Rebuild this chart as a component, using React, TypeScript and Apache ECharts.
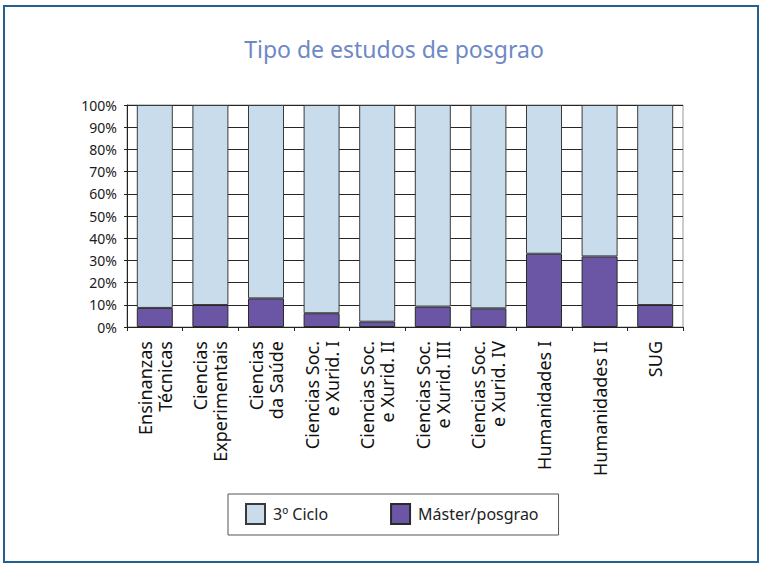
import React, { useEffect, useRef } from "react";
import * as echarts from "echarts";

const titleText = "Tipo de estudos de posgrao";
const categories = [
  "Ensinanzas\nTécnicas",
  "Ciencias\nExperimentais",
  "Ciencias\nda Saúde",
  "Ciencias Soc.\ne Xurid. I",
  "Ciencias Soc.\ne Xurid. II",
  "Ciencias Soc.\ne Xurid. III",
  "Ciencias Soc.\ne Xurid. IV",
  "Humanidades I",
  "Humanidades II",
  "SUG",
];
const masterName = "Máster/posgrao";
const cicloName = "3º Ciclo";
const masterValues = [8.6, 9.9, 12.9, 6.2, 2.4, 9.2, 8.4, 33.0, 31.8, 9.9];
const cicloValues = [91.4, 90.1, 87.1, 93.8, 97.6, 90.8, 91.6, 67.0, 68.2, 90.1];
const yTicks = { min: 0, max: 100, interval: 10 };

export default function App() {
  const ref = useRef<HTMLDivElement>(null);
  useEffect(() => {
    if (!ref.current) return;
    const chart = echarts.init(ref.current, null, { renderer: "svg" });
    const font = "'Noto Sans', 'Open Sans', sans-serif";
    chart.setOption({
      animation: false,
      backgroundColor: "#ffffff",
      textStyle: { fontFamily: font },
      title: {
        text: titleText,
        left: 394,
        top: 37,
        padding: 0,
        textAlign: "center",
        textStyle: {
          fontFamily: font,
          fontSize: 23,
          fontWeight: "normal",
          color: "#6e88c6",
        },
      },
      graphic: [
        {
          type: "rect",
          shape: { x: 4, y: 6, width: 754, height: 556 },
          style: { fill: "none", stroke: "#22608f", lineWidth: 2 },
          silent: true,
        },
      ],
      legend: {
        left: 228,
        top: 494,
        orient: "horizontal",
        data: [cicloName, masterName],
        icon: "rect",
        itemWidth: 19,
        itemHeight: 20,
        itemGap: 62,
        padding: [9, 20, 10, 17],
        borderColor: "#555555",
        borderWidth: 1,
        textStyle: {
          fontFamily: font,
          fontSize: 16,
          color: "#222222",
          padding: [0, 0, 0, 3],
        },
      },
      grid: {
        left: 127,
        right: 77,
        top: 105,
        bottom: 237,
        show: true,
        borderColor: "#999999",
        borderWidth: 1,
        containLabel: false,
      },
      xAxis: {
        type: "category",
        data: categories,
        boundaryGap: true,
        axisLine: { show: true, lineStyle: { color: "#222222", width: 1 } },
        axisTick: {
          show: true,
          length: 4,
          inside: false,
          alignWithLabel: false,
          lineStyle: { color: "#222222" },
        },
        splitLine: { show: false },
        axisLabel: {
          interval: 0,
          rotate: 90,
          margin: 14,
          fontFamily: font,
          fontSize: 18,
          lineHeight: 20,
          color: "#111111",
        },
      },
      yAxis: {
        type: "value",
        min: yTicks.min,
        max: yTicks.max,
        interval: yTicks.interval,
        axisLine: { show: true, lineStyle: { color: "#222222", width: 1 } },
        axisTick: { show: true, length: 3, lineStyle: { color: "#222222" } },
        splitLine: { show: true, lineStyle: { color: "#262626", width: 1 } },
        axisLabel: {
          formatter: "{value}%",
          margin: 10,
          fontFamily: font,
          fontSize: 14,
          color: "#1a1a1a",
        },
      },
      series: [
        {
          name: masterName,
          type: "bar",
          stack: "total",
          barWidth: 36,
          data: masterValues,
          itemStyle: { color: "#6a56a4", borderColor: "#2a2a2a", borderWidth: 1 },
        },
        {
          name: cicloName,
          type: "bar",
          stack: "total",
          barWidth: 36,
          data: cicloValues,
          itemStyle: { color: "#c8dcec", borderColor: "#3a3a3a", borderWidth: 1 },
        },
      ],
    });
    return () => chart.dispose();
  }, []);
  return (
    <div
      ref={ref}
      style={{ position: "absolute", left: 0, top: 0, width: 760, height: 564 }}
    />
  );
}
